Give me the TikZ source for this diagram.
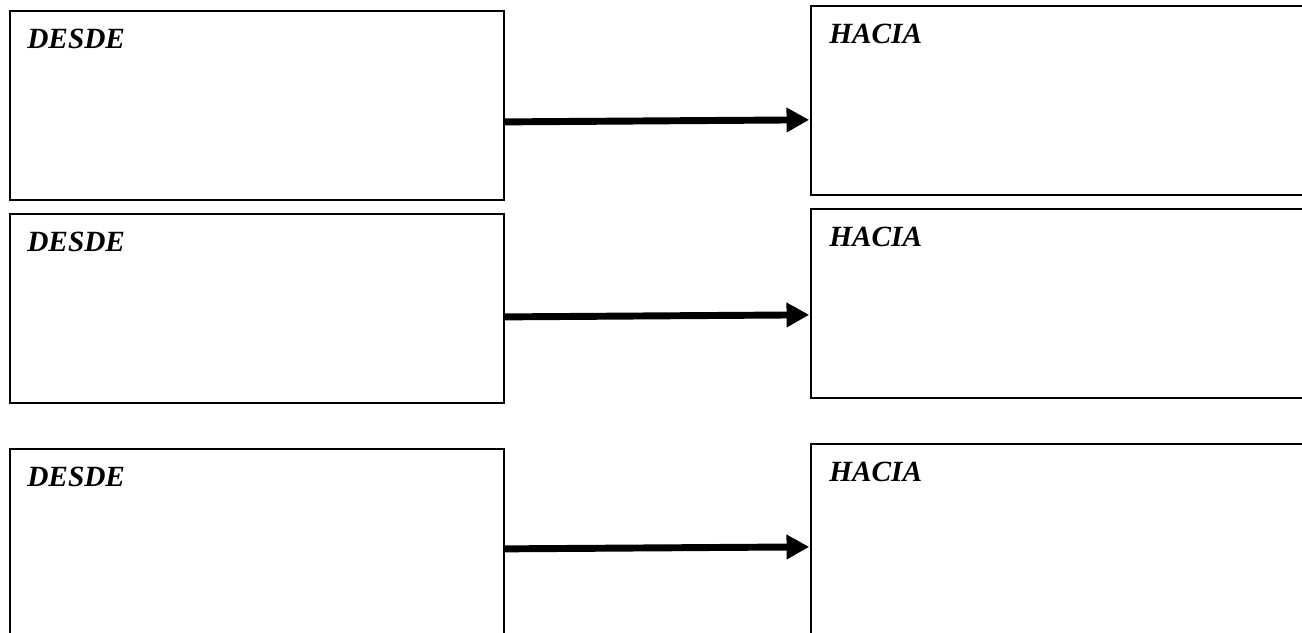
\documentclass[tikz,border=0pt]{standalone}
\usepackage{fontspec}
\setmainfont{Liberation Serif}
\usetikzlibrary{arrows.meta}
\begin{document}
\begin{tikzpicture}[x=0.75pt,y=-0.75pt,
  leftbox/.style={draw=black,line width=1.3pt,rectangle,inner sep=0pt,anchor=north west,minimum width=370.5pt,minimum height=141.75pt},
  rightbox/.style={draw=black,line width=1.3pt,rectangle,inner sep=0pt,anchor=north west,minimum width=382.5pt,minimum height=141.75pt},
  lastrow/.style={minimum height=150pt},
  lbl/.style={anchor=base west,inner sep=0pt,font=\fontsize{22pt}{26pt}\selectfont\bfseries\itshape},
  arr/.style={line width=5.2pt,-{Triangle[length=17pt,width=17.5pt]},shorten >=0.6pt}
]
\useasboundingbox (0,0) rectangle (1302,632);
\clip (0,0) rectangle (1302,632);
\fill[white] (0,0) rectangle (1302,632);
% left boxes
\node[leftbox] (L1) at (9,10) {};
\node[leftbox] (L2) at (9,213) {};
\node[leftbox,lastrow] (L3) at (9,448) {};
% right boxes
\node[rightbox] (R1) at (810,5) {};
\node[rightbox] (R2) at (810,208) {};
\node[rightbox,lastrow] (R3) at (810,443) {};
% labels
\node[lbl] (t1) at ([xshift=13.5pt,yshift=-28.5pt]L1.north west) {DESDE};
\node[lbl] (t2) at ([xshift=13.5pt,yshift=-28.5pt]L2.north west) {DESDE};
\node[lbl] (t3) at ([xshift=13.5pt,yshift=-28.5pt]L3.north west) {DESDE};
\node[lbl] (h1) at ([xshift=14.25pt,yshift=-28.5pt]R1.north west) {HACIA};
\node[lbl] (h2) at ([xshift=14.25pt,yshift=-28.5pt]R2.north west) {HACIA};
\node[lbl] (h3) at ([xshift=14.25pt,yshift=-28.5pt]R3.north west) {HACIA};
% arrows
\draw[arr] ([yshift=-12.4pt]L1.east) -- ([yshift=-14.6pt]R1.west);
\draw[arr] ([yshift=-6.4pt]L2.east) -- ([yshift=-8.6pt]R2.west);
\draw[arr] ([yshift=0pt]L3.east) -- ([yshift=-2.25pt]R3.west);
\end{tikzpicture}
\end{document}
